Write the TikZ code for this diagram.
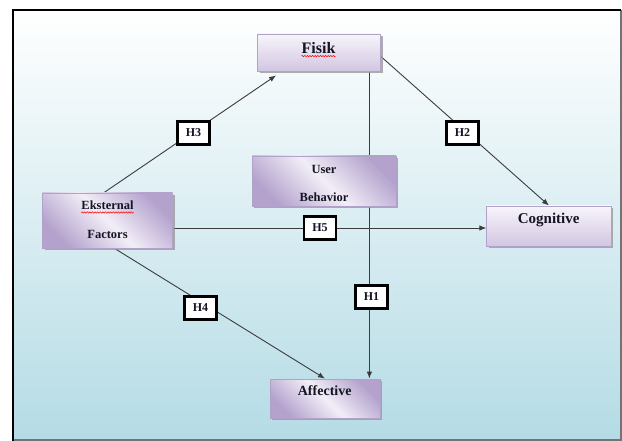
\documentclass[tikz,border=0pt]{standalone}
\usepackage{fontspec}
\setmainfont{Liberation Serif}
\usetikzlibrary{arrows.meta,calc,shadows,decorations.pathmorphing}
\definecolor{bgblue}{RGB}{180,219,229}
\definecolor{boxlight}{RGB}{242,238,247}
\definecolor{boxmid}{RGB}{210,198,226}
\definecolor{boxdark}{RGB}{180,162,205}
\definecolor{boxline}{RGB}{176,162,200}
\definecolor{txt}{RGB}{20,20,35}
\definecolor{linegray}{RGB}{60,60,60}
\pgfdeclarelayer{bg}
\pgfdeclarelayer{lines}
\pgfsetlayers{bg,lines,main}
\tikzset{
  boxbase/.style={draw=boxline, line width=0.8pt, inner sep=0pt,
    drop shadow={shadow xshift=2pt, shadow yshift=-2pt, fill=black!40, opacity=0.8}},
  flatbox/.style={boxbase, top color=boxlight!60!white, bottom color=boxmid},
  diagbox/.style={boxbase, top color=boxdark, bottom color=boxdark, middle color=boxlight, shading angle=-45},
  boxtext/.style={inner sep=0pt, anchor=base, font=\bfseries, text=txt},
  hbox/.style={draw=black, line width=2.6pt, fill=white, minimum width=32pt, minimum height=23pt,
    inner sep=0pt, font=\bfseries\fontsize{12}{13}\selectfont, text=txt},
  conn/.style={draw=linegray, line width=0.9pt},
  arr/.style={conn, -{Latex[length=7pt,width=5.5pt]}},
  wavy/.style={draw=red, line width=0.5pt, decorate, decoration={snake, amplitude=0.7pt, segment length=2.6pt}}
}
\begin{document}
\begin{tikzpicture}[x=1pt,y=-1pt]
\useasboundingbox (0,0) rectangle (622,441);
\begin{pgfonlayer}{bg}
  \fill[white] (0,0) rectangle (622,441);
  \shade[top color=white, bottom color=bgblue] (13,10) rectangle (621,441);
  \draw[black!55, line width=1.2pt] (621,10) -- (621,440) -- (13,440);
  \draw[black, line width=2.7pt] (13,441) -- (13,10) -- (621,10);
\end{pgfonlayer}

% boxes
\node[flatbox, minimum width=123pt, minimum height=37pt] (fisik) at (319,52.5) {};
\node[boxtext, font=\bfseries\fontsize{16}{18}\selectfont] (fisikt) at (318.5,53.3) {Fisik};
\node[diagbox, minimum width=144pt, minimum height=50pt] (ub) at (324,181) {};
\node[boxtext, font=\bfseries\fontsize{12.5}{14}\selectfont] (ubt1) at (324,173.3) {User};
\node[boxtext, font=\bfseries\fontsize{12.5}{14}\selectfont] (ubt2) at (324,201.7) {Behavior};
\node[diagbox, minimum width=130pt, minimum height=55pt] (eks) at (107.5,220.5) {};
\node[boxtext, font=\bfseries\fontsize{12.5}{14}\selectfont] (ekst1) at (107.5,210) {Eksternal};
\node[boxtext, font=\bfseries\fontsize{12.5}{14}\selectfont] (ekst2) at (107.5,238.3) {Factors};
\node[flatbox, minimum width=124.5pt, minimum height=40pt] (cog) at (549,226) {};
\node[boxtext, font=\bfseries\fontsize{15}{17}\selectfont] (cogt) at (548.7,223.3) {Cognitive};
\node[diagbox, minimum width=110pt, minimum height=39pt] (aff) at (325,398.5) {};
\node[boxtext, font=\bfseries\fontsize{14}{16}\selectfont] (afft) at (324.7,395.7) {Affective};

% spell-check underlines
\draw[wavy] ($(fisikt.base west)+(0,2.8)$) -- ($(fisikt.base east)+(0,2.8)$);
\draw[wavy] ($(ekst1.base west)+(0,2.5)$) -- ($(ekst1.base east)+(0,2.5)$);

% hypothesis labels
\node[hbox] (h3) at (193.5,133) {H3};
\node[hbox] (h2) at (462.5,133) {H2};
\node[hbox] (h5) at (320,228) {H5};
\node[hbox] (h1) at (371.5,297) {H1};
\node[hbox] (h4) at (200.5,308) {H4};

% connectors
\begin{pgfonlayer}{lines}
  \draw[arr] ($(eks.north)+(-3.5,0)$) -- ($(fisik.south west)+(19,4)$);
  \draw[arr] ($(fisik.east)+(0,4)$) -- (cog.north);
  \draw[arr] ($(fisik.south east)+(-11.5,0)$) -- ($(aff.north east)+(-11,0)$);
  \draw[arr] ($(eks.east)+(0,7.5)$) -- ($(cog.west)+(0,2)$);
  \draw[arr] ($(eks.south)+(7,0)$) -- (aff.north);
\end{pgfonlayer}
\end{tikzpicture}
\end{document}
